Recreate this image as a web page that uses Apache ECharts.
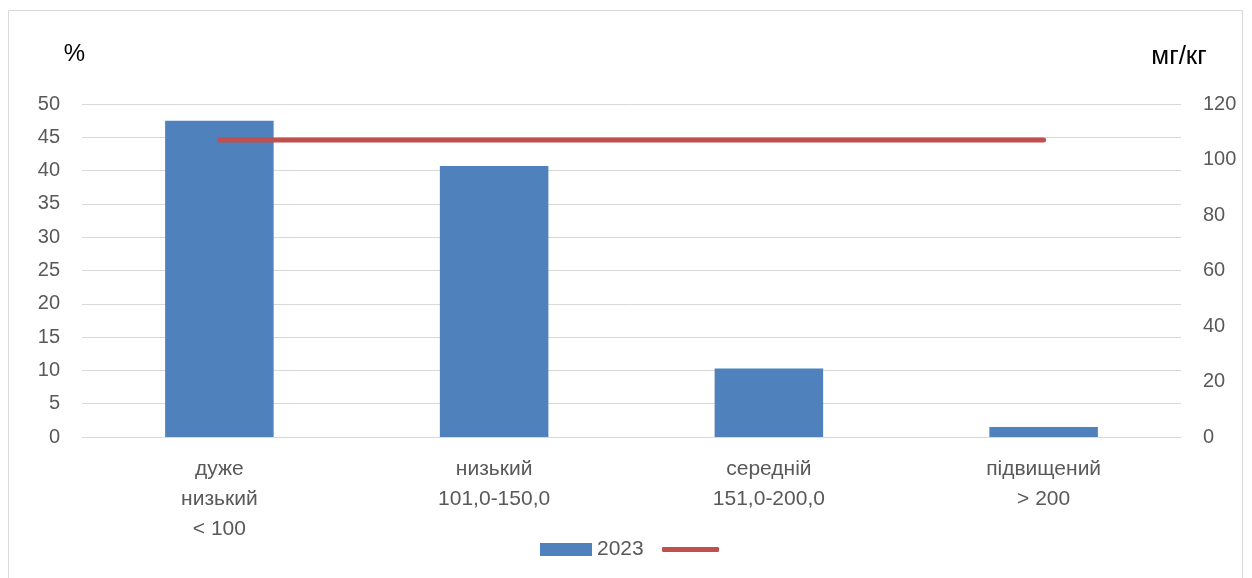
<!DOCTYPE html>
<html>
<head>
<meta charset="utf-8">
<script src="https://cdn.jsdelivr.net/npm/echarts@6/dist/echarts.min.js"></script>
<style>
  html, body { margin: 0; padding: 0; background: #fff; }
  #chart { width: 1252px; height: 578px; }
</style>
</head>
<body>
<div id="chart"></div>
<script>
var categories = ['дуже\nнизький\n< 100', 'низький\n101,0-150,0', 'середній\n151,0-200,0', 'підвищений\n> 200'];
var shareValues = [47.5, 40.7, 10.3, 1.5];
var levelValues = [107, 107, 107, 107];
var barName = '2023';
var lineName = ' ';

var chart = echarts.init(document.getElementById('chart'));
var font = 'Liberation Sans';

var option = {
  backgroundColor: '#fff',
  animation: false,
  graphic: [{
    type: 'rect',
    shape: { x: 8.5, y: 10.5, width: 1234, height: 580 },
    style: { fill: 'none', stroke: '#d9d9d9', lineWidth: 1 }
  }],
  grid: { left: 82, right: 71, top: 104, bottom: 141 },
  legend: [{
    left: 535,
    top: 534,
    itemWidth: 52,
    itemHeight: 13,
    itemGap: 5,
    textStyle: { fontFamily: font, fontSize: 21, color: '#595959' },
    data: [{ name: barName, icon: 'rect' }]
  }, {
    left: 657,
    top: 534,
    itemWidth: 57,
    itemHeight: 5,
    textStyle: { fontFamily: font, fontSize: 21, color: '#595959' },
    data: [{ name: lineName, icon: 'roundRect' }]
  }],
  xAxis: {
    type: 'category',
    data: categories,
    axisTick: { show: false },
    axisLine: { lineStyle: { color: '#d9d9d9', width: 1 } },
    axisLabel: {
      fontFamily: font, fontSize: 21, color: '#595959',
      lineHeight: 30, margin: 17
    }
  },
  yAxis: [{
    type: 'value',
    min: 0, max: 50, interval: 5,
    name: '%',
    nameLocation: 'end',
    nameGap: 38,
    nameTextStyle: { fontFamily: font, fontSize: 24, color: '#000', align: 'right', padding: [0, -3, 0, 0] },
    axisLine: { show: false },
    axisTick: { show: false },
    axisLabel: { fontFamily: font, fontSize: 20, color: '#595959', margin: 22 },
    splitLine: { lineStyle: { color: '#d9d9d9', width: 1 } }
  }, {
    type: 'value',
    min: 0, max: 120, interval: 20,
    name: 'мг/кг',
    nameLocation: 'end',
    nameGap: 34,
    nameTextStyle: { fontFamily: font, fontSize: 26, color: '#000', align: 'center', padding: [0, 4, 0, 0] },
    axisLine: { show: false },
    axisTick: { show: false },
    axisLabel: { fontFamily: font, fontSize: 20, color: '#595959', margin: 22 },
    splitLine: { show: false }
  }],
  series: [{
    name: barName,
    type: 'bar',
    data: shareValues,
    barWidth: '39.5%',
    itemStyle: { color: '#4f81bd' }
  }, {
    name: lineName,
    type: 'line',
    yAxisIndex: 1,
    data: levelValues,
    symbol: 'none',
    lineStyle: { color: '#c0504d', width: 5, cap: 'round' },
    itemStyle: { color: '#c0504d' }
  }]
};

chart.setOption(option);
</script>
</body>
</html>
